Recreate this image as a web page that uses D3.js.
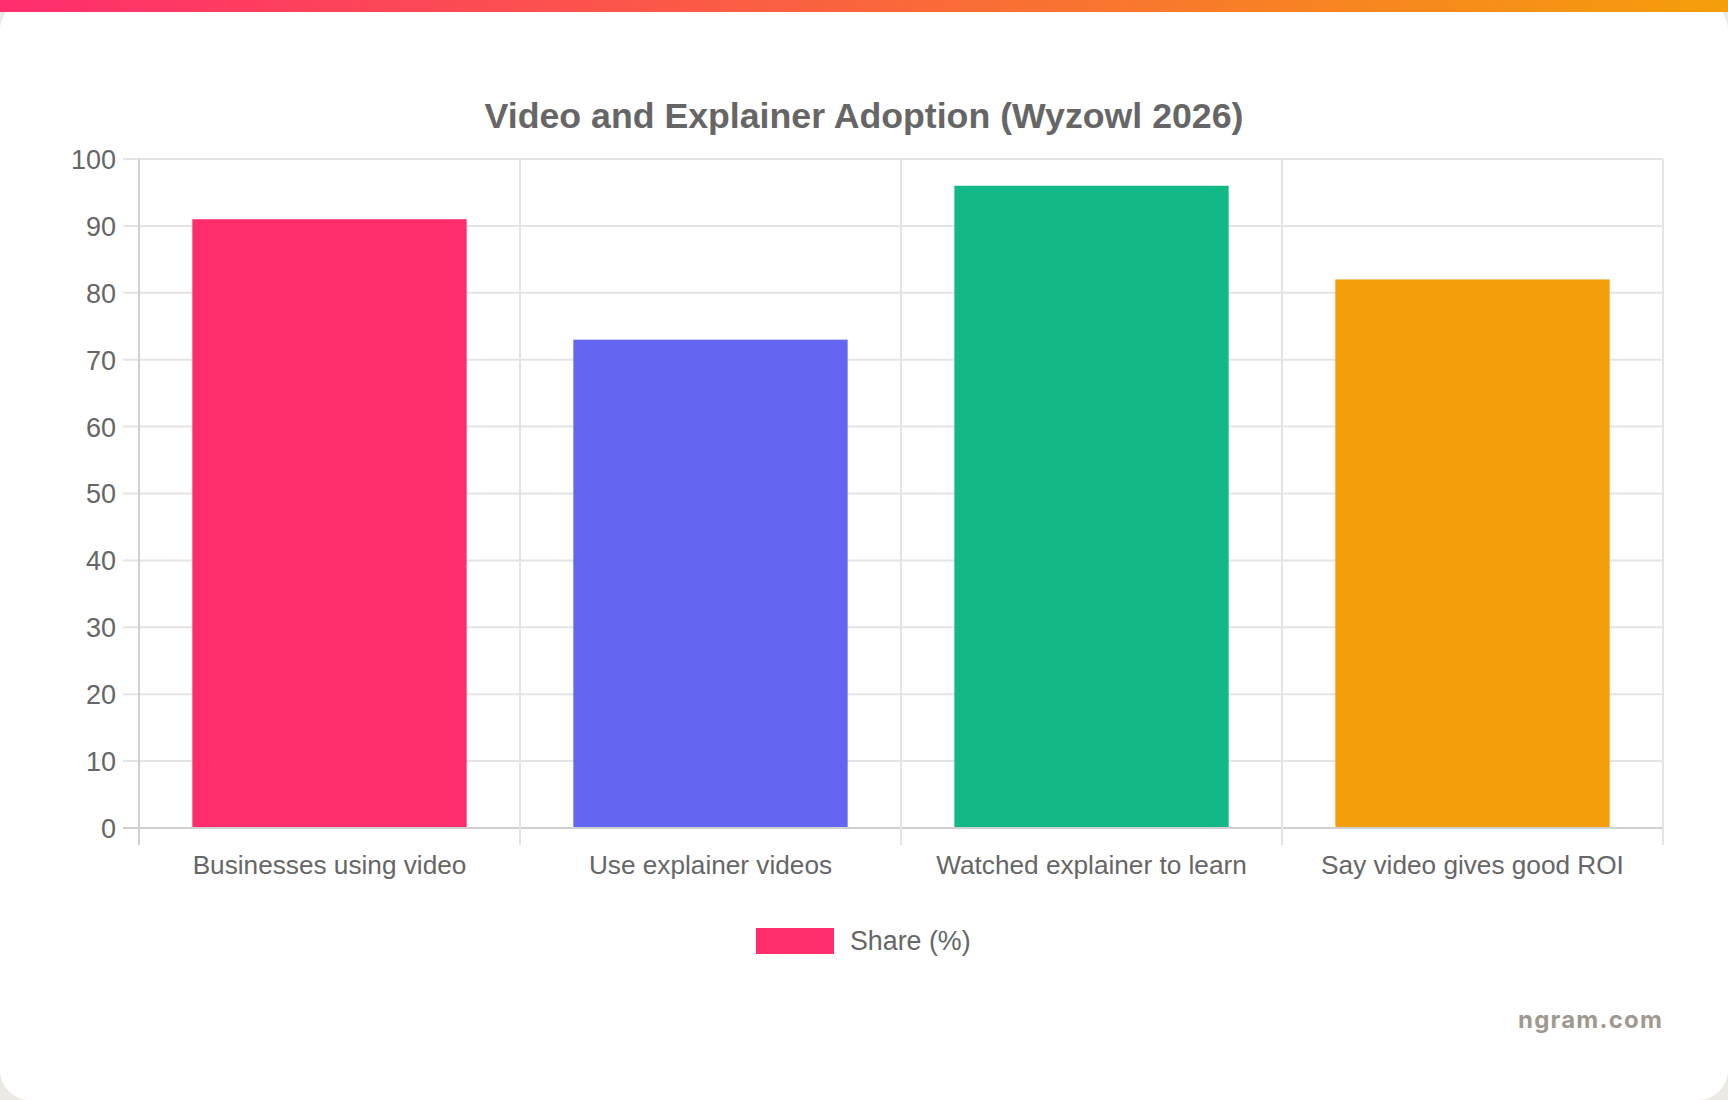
<!DOCTYPE html>
<html>
<head>
<meta charset="utf-8">
<script src="https://cdn.jsdelivr.net/npm/d3@7/dist/d3.min.js"></script>
<style>
  html, body { margin: 0; padding: 0; background: #ece9e4; width: 1728px; height: 1100px; overflow: hidden; }
  #topbar { position: absolute; left: 0; top: 0; width: 1728px; height: 12px; background: linear-gradient(90deg, #ff2d6e 0%, #f59e0b 100%); z-index: 2; }
  #card { position: absolute; left: 0; top: 0; width: 1728px; height: 1100px; background: #fff; border-radius: 30px; }
  svg { position: absolute; left: 0; top: 0; }
</style>
</head>
<body>
<div id="card"></div>
<div id="topbar"></div>
<svg id="chart" width="1728" height="1100"></svg>
<script>
const categories = ["Businesses using video", "Use explainer videos", "Watched explainer to learn", "Say video gives good ROI"];
const values = [91, 73, 96, 82];
const barColors = ["#ff2d6b", "#6366f1", "#12b886", "#f49e0c"];
const yTicks = [0, 10, 20, 30, 40, 50, 60, 70, 80, 90, 100];
const seriesName = "Share (%)";
const titleText = "Video and Explainer Adoption (Wyzowl 2026)";
const watermark = "ngram.com";

(function () {
const svg = d3.select("#chart");
const pLeft = 139, pRight = 1663, pTop = 159, pBottom = 828;
const font = "'Liberation Sans', Arial, Helvetica, sans-serif";
const textColor = "#666666";

const x = d3.scaleBand().domain(categories).range([pLeft, pRight]).paddingInner(0).paddingOuter(0);
const y = d3.scaleLinear().domain([0, 100]).range([pBottom, pTop]);

// horizontal grid
const gGrid = svg.append("g");
gGrid.selectAll("line.h").data(yTicks).enter().append("line").attr("class", "h")
  .attr("x1", pLeft - 16).attr("x2", pRight)
  .attr("y1", d => y(d)).attr("y2", d => y(d))
  .attr("stroke", d => d === 0 ? "#d0d0d0" : "#e4e4e4").attr("stroke-width", 2);

// vertical grid at category boundaries
const bounds = categories.map(c => x(c)).concat([pRight]);
gGrid.selectAll("line.v").data(bounds).enter().append("line").attr("class", "v")
  .attr("x1", d => d).attr("x2", d => d)
  .attr("y1", pTop).attr("y2", pBottom + 17)
  .attr("stroke", (d, i) => i === 0 ? "#d0d0d0" : "#e4e4e4").attr("stroke-width", 2);

// bars
const bw = x.bandwidth() * 0.72;
const bars = svg.append("g");
bars.selectAll("rect").data(values).enter().append("rect")
  .attr("x", (d, i) => x(categories[i]) + (x.bandwidth() - bw) / 2)
  .attr("y", d => y(d))
  .attr("width", bw)
  .attr("height", d => y(0) - y(d) - 1)
  .attr("fill", (d, i) => barColors[i]);

// y axis labels
const yAxis = d3.axisLeft(y).tickValues(yTicks).tickSize(0).tickPadding(0);
const gy = svg.append("g").attr("transform", "translate(116,0)").call(yAxis);
gy.select(".domain").remove();
gy.selectAll("text").attr("font-family", font).attr("font-size", "27px").attr("fill", textColor)
  .attr("x", 0).attr("dy", "0.35em");

// x axis labels
const xAxis = d3.axisBottom(x).tickSize(0).tickPadding(0);
const gx = svg.append("g").attr("transform", "translate(0,865)").call(xAxis);
gx.select(".domain").remove();
gx.selectAll("text").attr("font-family", font).attr("font-size", "26.2px").attr("fill", textColor)
  .attr("y", 0).attr("dy", "0.35em");

// title
svg.append("text").attr("x", 864).attr("y", 116).attr("dy", "0.35em")
  .attr("text-anchor", "middle").attr("font-family", font).attr("font-weight", "bold")
  .attr("font-size", "35.7px").attr("fill", textColor).text(titleText);

// legend
const lg = svg.append("g");
lg.append("rect").attr("x", 756).attr("y", 928).attr("width", 78).attr("height", 26)
  .attr("fill", barColors[0]);
lg.append("text").attr("x", 850).attr("y", 941).attr("dy", "0.35em")
  .attr("font-family", font).attr("font-size", "26.8px").attr("fill", textColor).text(seriesName);

// watermark
svg.append("text").attr("x", 1663).attr("y", 1020).attr("dy", "0.35em")
  .attr("text-anchor", "end").attr("font-family", "Inter, 'Open Sans', sans-serif").attr("font-weight", 700)
  .attr("font-size", "24px").attr("letter-spacing", "1.2px").attr("fill", "#a09991").text(watermark);
})();
</script>
</body>
</html>
